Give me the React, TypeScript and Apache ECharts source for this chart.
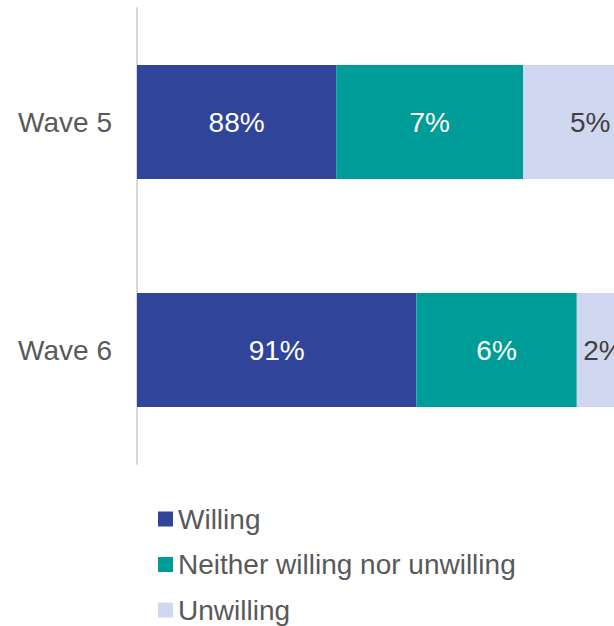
import React, { useEffect, useRef } from "react";
import * as echarts from "echarts";

const categories = ["Wave 5", "Wave 6"];
const seriesNames = ["Willing", "Neither willing nor unwilling", "Unwilling"];
const willing = [88, 91];
const neither = [7, 6];
const unwilling = [5, 2];
const colors = ["#30459a", "#009c98", "#d0d7f0"];
const labelColors = ["#ffffff", "#ffffff", "#404040"];

const FONT = "'Liberation Sans', Arial, sans-serif";

export default function App() {
  const ref = useRef<HTMLDivElement>(null);
  useEffect(() => {
    if (!ref.current) return;
    const chart = echarts.init(ref.current, undefined, { renderer: "svg" });
    const values = [willing, neither, unwilling];
    chart.setOption({
      animation: false,
      textStyle: { fontFamily: FONT },
      grid: { left: 137, top: 8, width: 520, height: 456 },
      xAxis: {
        type: "value",
        min: 80.55,
        max: 100,
        show: false,
        splitLine: { show: false },
      },
      yAxis: {
        type: "category",
        data: categories,
        inverse: true,
        axisLine: { show: true, lineStyle: { color: "#d9d9d9", width: 2 } },
        axisTick: { show: false },
        axisLabel: { color: "#595959", fontSize: 28, fontFamily: FONT, margin: 25 },
      },
      legend: {
        orient: "vertical",
        left: 153,
        top: 498,
        icon: "rect",
        itemWidth: 15,
        itemHeight: 15,
        itemGap: 13.5,
        textStyle: { color: "#595959", fontSize: 28, fontFamily: FONT, lineHeight: 32 },
        data: seriesNames,
      },
      series: seriesNames.map((name, i) => ({
        name,
        type: "bar",
        stack: "total",
        barWidth: "50%",
        data: values[i],
        itemStyle: { color: colors[i] },
        label: {
          show: true,
          position: "inside",
          formatter: "{c}%",
          color: labelColors[i],
          fontSize: 28,
          fontFamily: FONT,
        },
      })),
    });
    return () => chart.dispose();
  }, []);
  return (
    <div
      ref={ref}
      style={{ position: "fixed", left: 0, top: 0, width: 720, height: 720, background: "#fff" }}
    />
  );
}
